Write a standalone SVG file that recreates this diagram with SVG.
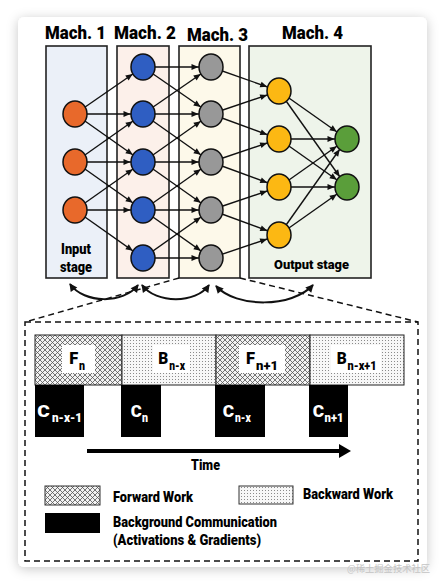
<svg xmlns="http://www.w3.org/2000/svg" width="445" height="587" viewBox="0 0 445 587">
<defs>
<filter id="shadow" x="-10%" y="-10%" width="120%" height="120%">
<feDropShadow dx="0" dy="2" stdDeviation="6" flood-color="#000" flood-opacity="0.22"/>
</filter>
<marker id="ah" markerUnits="userSpaceOnUse" markerWidth="22" markerHeight="8" refX="19.5" refY="3" orient="auto" overflow="visible">
<path d="M0,0 L7,3 L0,6 z" fill="#111"/>
</marker>
<marker id="ca" markerUnits="userSpaceOnUse" markerWidth="10" markerHeight="10" refX="7" refY="4" orient="auto-start-reverse" overflow="visible">
<path d="M0,0 L8,4 L0,8 z" fill="#111"/>
</marker>
<marker id="ta" markerUnits="userSpaceOnUse" markerWidth="14" markerHeight="14" refX="0" refY="7" orient="auto" overflow="visible">
<path d="M0,0 L12,7 L0,14 z" fill="#000"/>
</marker>
<pattern id="xhatch" patternUnits="userSpaceOnUse" width="5" height="5">
<rect width="5" height="5" fill="#f2f2f2"/>
<path d="M0,0 L5,5 M5,0 L0,5" stroke="#555" stroke-width="0.8"/>
</pattern>
<pattern id="dots" patternUnits="userSpaceOnUse" width="3" height="3">
<rect width="3" height="3" fill="#f7f7f7"/>
<rect x="1" y="1" width="1" height="1" fill="#8a8a8a"/>
</pattern>
<style>
.t{font-family:"Roboto","Liberation Sans",sans-serif;font-weight:900;fill:#000}
.mach{stroke:#222;stroke-width:1.6}
.nd{stroke:#111;stroke-width:1.5}
.e{stroke:#111;stroke-width:1.4;fill:none;marker-end:url(#ah)}
.arc{stroke:#111;stroke-width:2;fill:none;marker-start:url(#ca);marker-end:url(#ca)}
.dash{stroke:#111;stroke-width:1.5;fill:none;stroke-dasharray:6 4}
.big{font-size:16px}
.sub{font-size:12px}
.w{fill:#fff}
</style>
</defs>
<rect width="445" height="587" fill="#fff"/>
<rect x="18" y="17" width="409" height="550" rx="6" fill="#fff" filter="url(#shadow)"/>

<g id="machine-boxes">
<rect id="mach1" class="mach" x="46" y="46" width="61" height="232" fill="#ebf0f8"/>
<rect id="mach2" class="mach" x="117" y="46" width="52" height="232" fill="#fcf0ea"/>
<rect id="mach3" class="mach" x="179" y="46" width="61" height="232" fill="#fdf9ea"/>
<rect id="mach4" class="mach" x="249" y="46" width="122" height="232" fill="#eef4ea"/>
</g>
<g id="titles">
<text class="t" x="45" y="39" font-size="18" textLength="61" lengthAdjust="spacingAndGlyphs">Mach. 1</text>
<text class="t" x="114" y="39" font-size="18" textLength="62" lengthAdjust="spacingAndGlyphs">Mach. 2</text>
<text class="t" x="187" y="41" font-size="18" textLength="61" lengthAdjust="spacingAndGlyphs">Mach. 3</text>
<text class="t" x="282" y="39" font-size="18" textLength="61" lengthAdjust="spacingAndGlyphs">Mach. 4</text>
<text class="t" x="61" y="254" font-size="14" textLength="30" lengthAdjust="spacingAndGlyphs">Input</text>
<text class="t" x="60" y="272" font-size="14" textLength="32" lengthAdjust="spacingAndGlyphs">stage</text>
<text class="t" x="274" y="269" font-size="13.5" textLength="75" lengthAdjust="spacingAndGlyphs">Output stage</text>
</g>

<g id="connectors">
<line class="e" x1="75" y1="114" x2="143" y2="67"/>
<line class="e" x1="75" y1="114" x2="143" y2="114"/>
<line class="e" x1="75" y1="114" x2="143" y2="162"/>
<line class="e" x1="75" y1="162" x2="143" y2="114"/>
<line class="e" x1="75" y1="162" x2="143" y2="162"/>
<line class="e" x1="75" y1="162" x2="143" y2="210"/>
<line class="e" x1="75" y1="210" x2="143" y2="162"/>
<line class="e" x1="75" y1="210" x2="143" y2="210"/>
<line class="e" x1="75" y1="210" x2="143" y2="258"/>

<line class="e" x1="143" y1="67" x2="211" y2="67"/>
<line class="e" x1="143" y1="67" x2="211" y2="114"/>
<line class="e" x1="143" y1="114" x2="211" y2="67"/>
<line class="e" x1="143" y1="114" x2="211" y2="114"/>
<line class="e" x1="143" y1="114" x2="211" y2="162"/>
<line class="e" x1="143" y1="162" x2="211" y2="114"/>
<line class="e" x1="143" y1="162" x2="211" y2="162"/>
<line class="e" x1="143" y1="162" x2="211" y2="210"/>
<line class="e" x1="143" y1="210" x2="211" y2="162"/>
<line class="e" x1="143" y1="210" x2="211" y2="210"/>
<line class="e" x1="143" y1="210" x2="211" y2="258"/>
<line class="e" x1="143" y1="258" x2="211" y2="210"/>
<line class="e" x1="143" y1="258" x2="211" y2="258"/>

<line class="e" x1="211" y1="67" x2="279" y2="91"/>
<line class="e" x1="211" y1="114" x2="279" y2="91"/>
<line class="e" x1="211" y1="114" x2="279" y2="139"/>
<line class="e" x1="211" y1="162" x2="279" y2="139"/>
<line class="e" x1="211" y1="162" x2="279" y2="187"/>
<line class="e" x1="211" y1="210" x2="279" y2="187"/>
<line class="e" x1="211" y1="210" x2="279" y2="235"/>
<line class="e" x1="211" y1="258" x2="279" y2="235"/>

<line class="e" x1="279" y1="91" x2="347" y2="139"/>
<line class="e" x1="279" y1="91" x2="347" y2="187"/>
<line class="e" x1="279" y1="139" x2="347" y2="139"/>
<line class="e" x1="279" y1="139" x2="347" y2="187"/>
<line class="e" x1="279" y1="187" x2="347" y2="139"/>
<line class="e" x1="279" y1="187" x2="347" y2="187"/>
<line class="e" x1="279" y1="235" x2="347" y2="139"/>
<line class="e" x1="279" y1="235" x2="347" y2="187"/>

<path class="arc" d="M70,284 C84,304 124,304 138,285"/>
<path class="arc" d="M142,285 C156,304 196,304 209,285"/>
<path class="arc" d="M216,286 C236,308 292,308 313,285"/>
<path class="dash" d="M179,278 L25,322"/>
<path class="dash" d="M240,278 L418,322"/>
</g>

<g id="input-nodes" class="nd" fill="#e8692b">
<ellipse id="in1" cx="75" cy="114" rx="12" ry="13"/>
<ellipse id="in2" cx="75" cy="162" rx="12" ry="13"/>
<ellipse id="in3" cx="75" cy="210" rx="12" ry="13"/>
</g>
<g id="m2-nodes" class="nd" fill="#2f5ec2">
<ellipse id="b1" cx="143" cy="67" rx="12" ry="13"/>
<ellipse id="b2" cx="143" cy="114" rx="12" ry="13"/>
<ellipse id="b3" cx="143" cy="162" rx="12" ry="13"/>
<ellipse id="b4" cx="143" cy="210" rx="12" ry="13"/>
<ellipse id="b5" cx="143" cy="258" rx="12" ry="13"/>
</g>
<g id="m3-nodes" class="nd" fill="#989898">
<ellipse id="g1" cx="211" cy="67" rx="12" ry="13"/>
<ellipse id="g2" cx="211" cy="114" rx="12" ry="13"/>
<ellipse id="g3" cx="211" cy="162" rx="12" ry="13"/>
<ellipse id="g4" cx="211" cy="210" rx="12" ry="13"/>
<ellipse id="g5" cx="211" cy="258" rx="12" ry="13"/>
</g>
<g id="m4-nodes" class="nd" fill="#fcb813">
<ellipse id="y1" cx="279" cy="91" rx="12" ry="13"/>
<ellipse id="y2" cx="279" cy="139" rx="12" ry="13"/>
<ellipse id="y3" cx="279" cy="187" rx="12" ry="13"/>
<ellipse id="y4" cx="279" cy="235" rx="12" ry="13"/>
</g>
<g id="output-nodes" class="nd" fill="#5a9e3a">
<ellipse id="o1" cx="347" cy="139" rx="12" ry="13"/>
<ellipse id="o2" cx="347" cy="187" rx="12" ry="13"/>
</g>

<g id="timeline">
<rect x="25" y="322" width="393" height="239" fill="none" class="dash"/>
<g id="work-row" stroke="#222" stroke-width="1">
<rect x="35" y="335" width="87" height="50" fill="url(#xhatch)"/>
<rect x="122" y="335" width="94" height="50" fill="url(#dots)"/>
<rect x="216" y="335" width="94" height="50" fill="url(#xhatch)"/>
<rect x="310" y="335" width="94" height="50" fill="url(#dots)"/>
</g>
<rect class="w" x="62" y="345" width="33" height="28"/>
<rect class="w" x="153" y="345" width="37" height="28"/>
<rect class="w" x="239" y="345" width="46" height="28"/>
<rect class="w" x="331" y="345" width="50" height="28"/>
<text class="t big" x="69.3" y="364" textLength="9" lengthAdjust="spacingAndGlyphs">F</text>
<text class="t sub" x="79" y="370" textLength="6" lengthAdjust="spacingAndGlyphs">n</text>
<text class="t big" x="158.3" y="364" textLength="10" lengthAdjust="spacingAndGlyphs">B</text>
<text class="t sub" x="169.3" y="370" textLength="15.7" lengthAdjust="spacingAndGlyphs">n-x</text>
<text class="t big" x="246" y="364" textLength="9" lengthAdjust="spacingAndGlyphs">F</text>
<text class="t sub" x="256" y="370" textLength="22" lengthAdjust="spacingAndGlyphs">n+1</text>
<text class="t big" x="336.7" y="364" textLength="10" lengthAdjust="spacingAndGlyphs">B</text>
<text class="t sub" x="347.5" y="370" textLength="29" lengthAdjust="spacingAndGlyphs">n-x+1</text>

<g id="comm-row" fill="#000">
<rect x="35" y="385" width="49" height="52"/>
<rect x="121" y="385" width="40" height="52"/>
<rect x="215" y="385" width="50" height="52"/>
<rect x="309" y="385" width="39" height="52"/>
</g>
<g>
<text class="t big" style="fill:#fff" x="37.3" y="417" textLength="12.5" lengthAdjust="spacingAndGlyphs">C</text>
<text class="t sub" style="fill:#fff" x="52" y="422" textLength="30" lengthAdjust="spacingAndGlyphs">n-x-1</text>
<text class="t big" style="fill:#fff" x="130.7" y="417" textLength="11" lengthAdjust="spacingAndGlyphs">C</text>
<text class="t sub" style="fill:#fff" x="142" y="422" textLength="6" lengthAdjust="spacingAndGlyphs">n</text>
<text class="t big" style="fill:#fff" x="222.7" y="417" textLength="11.3" lengthAdjust="spacingAndGlyphs">C</text>
<text class="t sub" style="fill:#fff" x="235" y="422" textLength="15.7" lengthAdjust="spacingAndGlyphs">n-x</text>
<text class="t big" style="fill:#fff" x="312.7" y="417" textLength="11.3" lengthAdjust="spacingAndGlyphs">C</text>
<text class="t sub" style="fill:#fff" x="324.5" y="422" textLength="19" lengthAdjust="spacingAndGlyphs">n+1</text>
</g>

<line x1="87" y1="451" x2="339" y2="451" stroke="#000" stroke-width="4" marker-end="url(#ta)"/>
<text class="t" x="191" y="470" font-size="14" textLength="29" lengthAdjust="spacingAndGlyphs">Time</text>
</g>

<g id="legend">
<rect x="45" y="486" width="55" height="19" fill="url(#xhatch)" stroke="#333" stroke-width="1"/>
<text class="t" x="113" y="502" font-size="14" textLength="80" lengthAdjust="spacingAndGlyphs">Forward Work</text>
<rect x="239" y="486" width="54" height="18" fill="url(#dots)" stroke="#333" stroke-width="1"/>
<text class="t" x="303" y="499" font-size="14" textLength="90" lengthAdjust="spacingAndGlyphs">Backward Work</text>
<rect x="45" y="513" width="55" height="20" fill="#000"/>
<text class="t" x="113" y="527" font-size="14" textLength="164" lengthAdjust="spacingAndGlyphs">Background Communication</text>
<text class="t" x="113" y="545" font-size="14" textLength="148" lengthAdjust="spacingAndGlyphs">(Activations &amp; Gradients)</text>
</g>
<text x="347" y="572" font-family="'Noto Sans CJK SC',sans-serif" font-size="9.5" fill="#c4c4c4" textLength="83" lengthAdjust="spacingAndGlyphs">@稀土掘金技术社区</text>
</svg>
